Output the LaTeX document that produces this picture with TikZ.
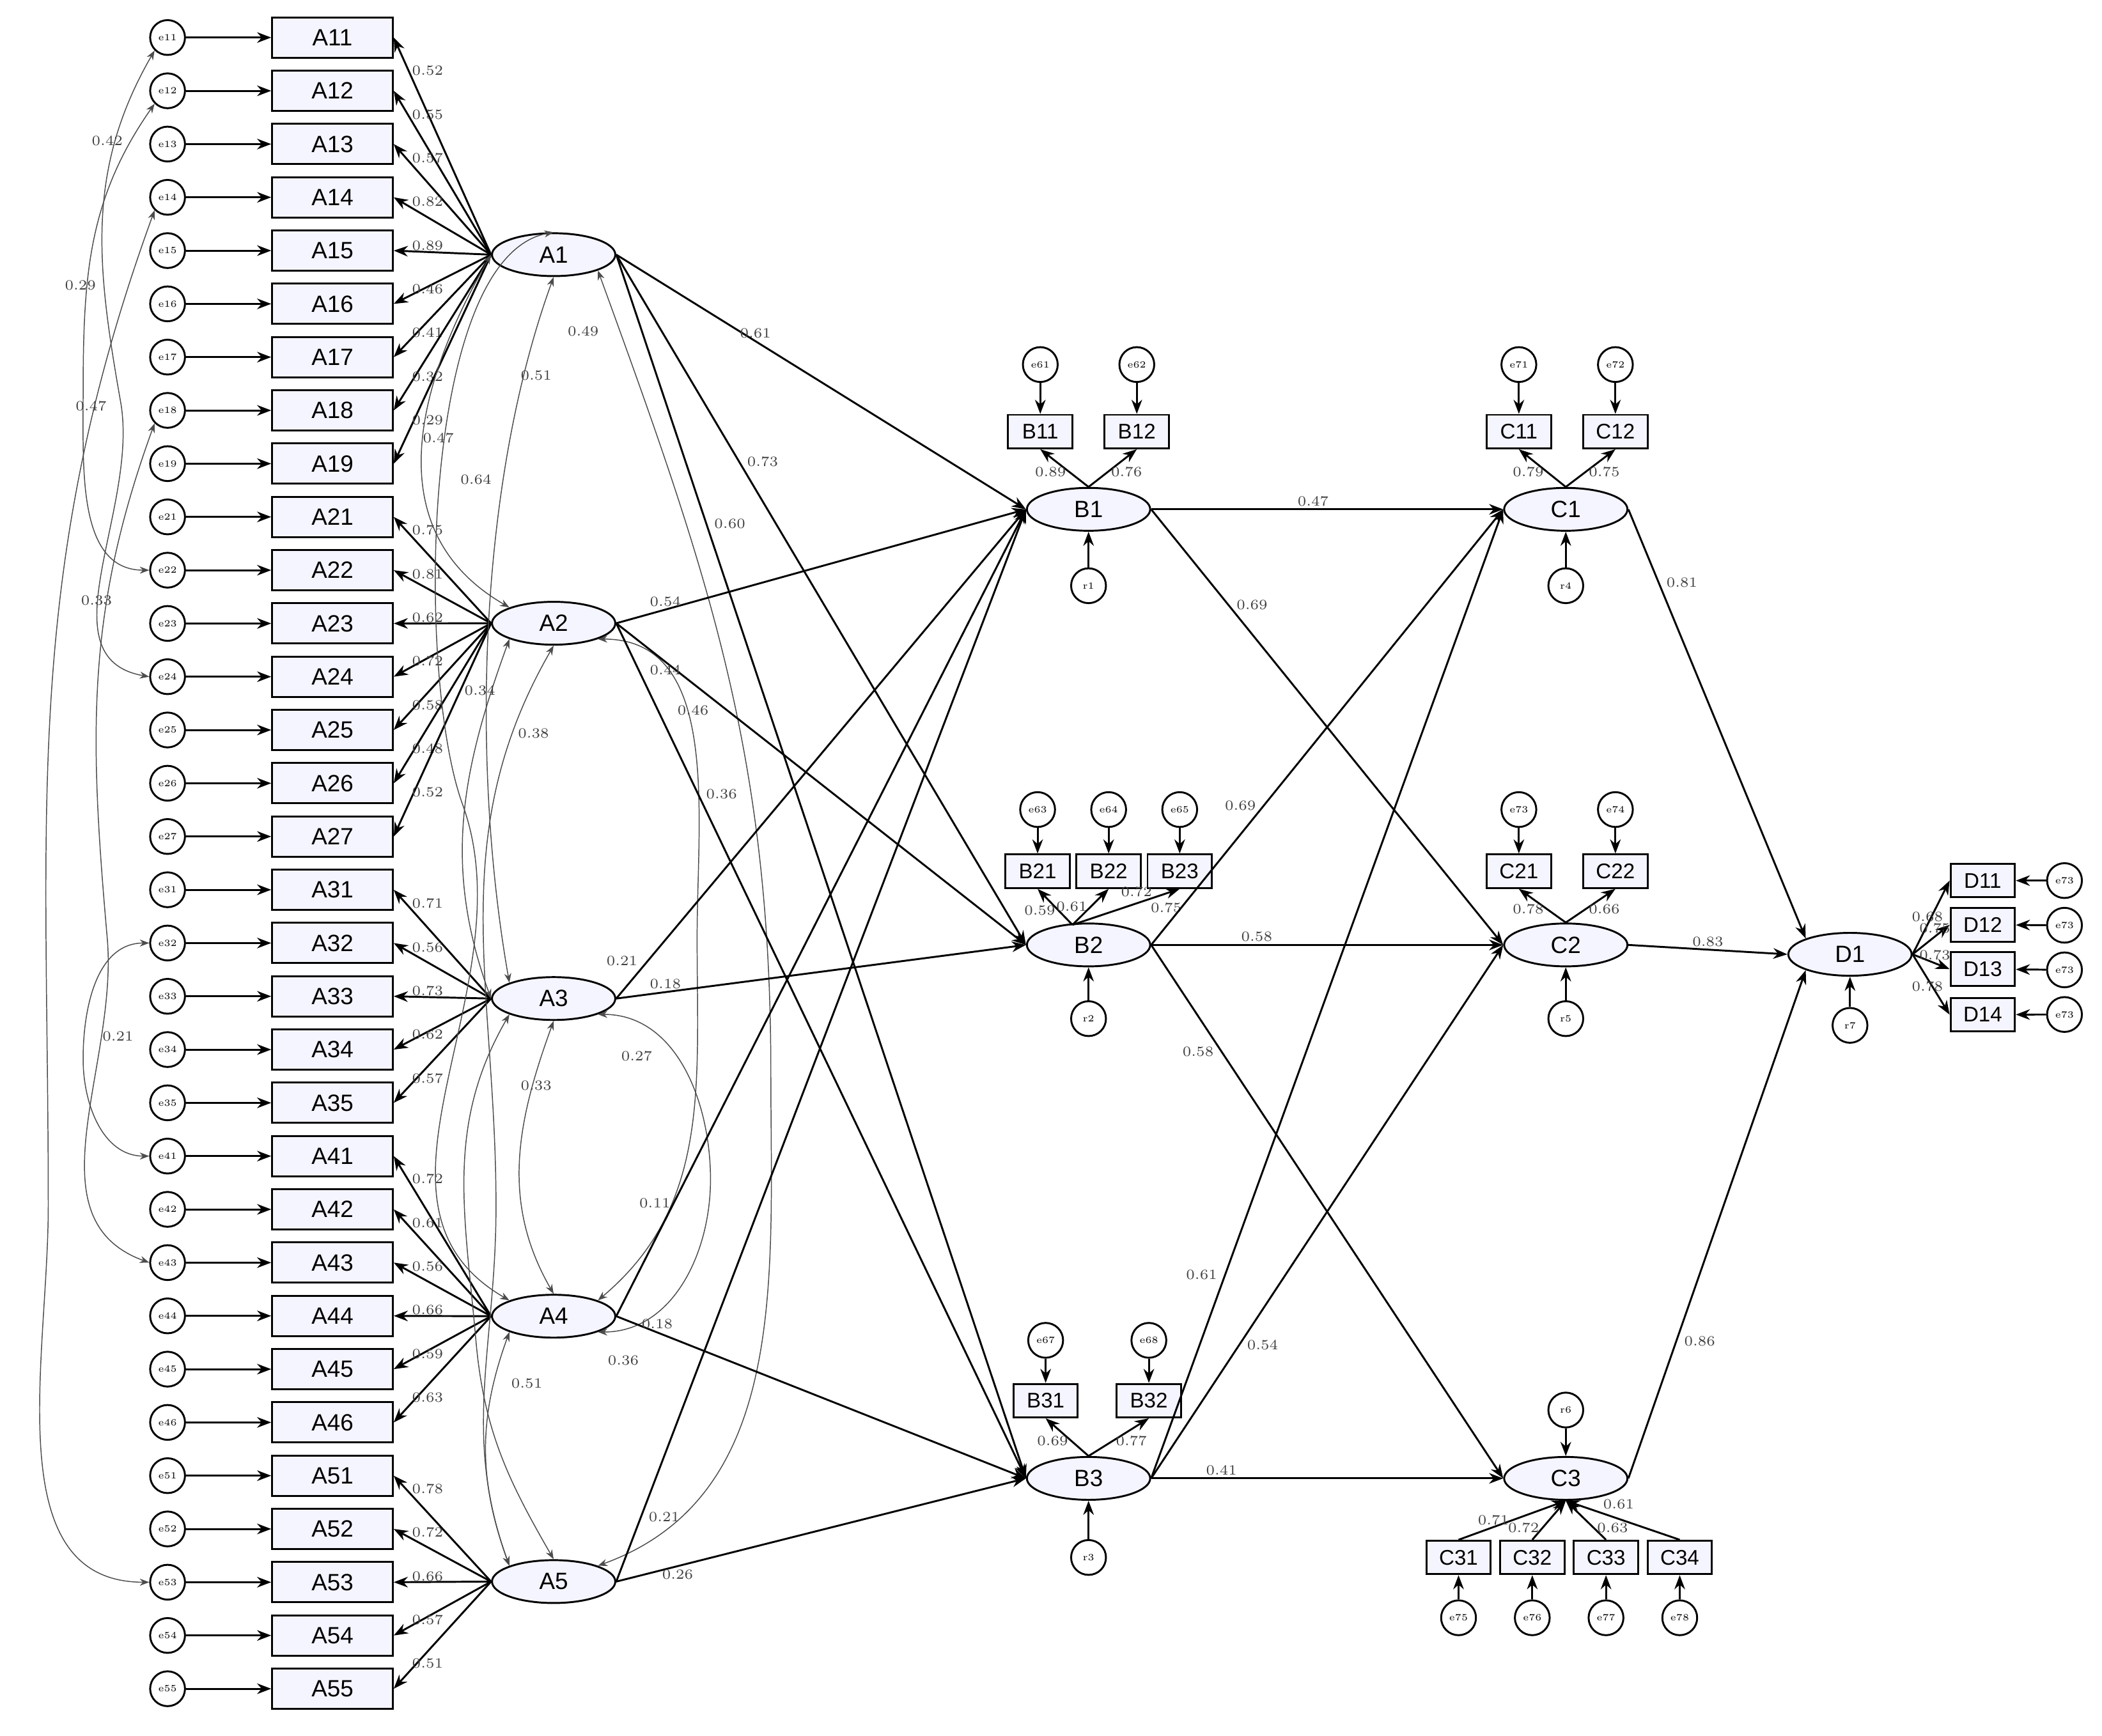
\documentclass[tikz,border=0pt]{standalone}
\usepackage{fontspec}
\newfontfamily\boxfont{Liberation Sans}
\usetikzlibrary{shapes.geometric,arrows.meta}

\begin{document}
\begin{tikzpicture}[x=0.02cm,y=-0.02cm,>={Stealth[length=6pt,width=4.5pt]},
  obs/.style={draw,thick,fill=blue!4,minimum width=1.8cm,minimum height=0.6cm,inner sep=0pt,font=\boxfont\fontsize{10}{10}\selectfont},
  sobs/.style={draw,thick,fill=blue!4,minimum width=0.96cm,minimum height=0.5cm,inner sep=0pt,font=\boxfont\fontsize{9}{9}\selectfont},
  lat/.style={ellipse,draw,thick,fill=blue!4,minimum width=1.84cm,minimum height=0.64cm,inner sep=0pt,font=\boxfont\fontsize{10}{10}\selectfont},
  err/.style={circle,draw,thick,fill=white,minimum size=0.52cm,inner sep=0pt,font=\fontsize{4}{4}\selectfont},
  coef/.style={font=\fontsize{6}{6}\selectfont,inner sep=1pt,text=black!75},
  cov/.style={{Stealth[length=4pt,width=3pt]}-{Stealth[length=4pt,width=3pt]},gray!60!black,thin}]
\useasboundingbox (0,0) rectangle (1568,1295);

% first order latents
\node[lat] (A1) at (413,190) {A1};
\node[lat] (A2) at (413,465) {A2};
\node[lat] (A3) at (413,745) {A3};
\node[lat] (A4) at (413,982) {A4};
\node[lat] (A5) at (413,1180) {A5};

% indicators of A
\foreach \s/\l/\w [count=\i] in {11/1/0.52,12/1/0.55,13/1/0.57,14/1/0.82,15/1/0.89,16/1/0.46,17/1/0.41,18/1/0.32,19/1/0.29,
  21/2/0.75,22/2/0.81,23/2/0.62,24/2/0.72,25/2/0.58,26/2/0.48,27/2/0.52,
  31/3/0.71,32/3/0.56,33/3/0.73,34/3/0.62,35/3/0.57,
  41/4/0.72,42/4/0.61,43/4/0.56,44/4/0.66,45/4/0.59,46/4/0.63,
  51/5/0.78,52/5/0.72,53/5/0.66,54/5/0.57,55/5/0.51}{
  \pgfmathsetmacro\yy{28+39.74*(\i-1)}
  \node[err] (e\s) at (125,\yy) {e\s};
  \node[obs] (A\s) at (248,\yy) {A\s};
  \draw[->,thick] (e\s) -- (A\s);
  \draw[->,thick] (A\l.west) -- (A\s.east) node[coef,pos=0.82,above right=-1pt]{\w};
}

% error covariances
\draw[cov] (e11.south west) to[out=240,in=100] (90,300) to[out=280,in=170] (e24.west);
\draw[cov] (e12.south west) to[out=235,in=90] (62,300) to[out=270,in=180] (e22.west);
\draw[cov] (e14.south west) to[out=250,in=90] (36,900) to[out=270,in=180] (e53.west);
\draw[cov] (e18.south west) to[out=250,in=95] (80,700) to[out=275,in=160] (e43.west);
\draw[cov] (e32.west) to[out=180,in=90] (62,790) to[out=270,in=180] (e41.west);
\node[coef] at (80,105) {0.42};
\node[coef] at (60,213) {0.29};
\node[coef] at (68,303) {0.47};
\node[coef] at (72,448) {0.33};
\node[coef] at (88,773) {0.21};

% latent covariances
\draw[cov] (A1.west) to[out=240,in=150,looseness=1.1] (A2.north west);
\draw[cov] (A1.north) to[out=190,in=110,looseness=0.6] (345,600) to[out=290,in=150] (A4.north west);
\draw[cov] (A1.south) to[out=250,in=100,looseness=0.8] (A3.north west);
\draw[cov] (A1.south east) to[out=290,in=90] (575,800) to[out=270,in=20] (A5.north east);
\draw[cov] (A2.south west) to[out=250,in=110] (A3.west);
\draw[cov] (A2.south) to[out=240,in=90] (370,900) to[out=270,in=110] (A5.north west);
\draw[cov] (A2.south east) to[out=0,in=90] (520,700) to[out=270,in=40] (A4.north east);
\draw[cov] (A3.south) to[out=250,in=120] (A4.north);
\draw[cov] (A3.south west) to[out=240,in=95] (355,1000) to[out=275,in=120] (A5.north);
\draw[cov] (A3.south east) to[out=0,in=90] (530,880) to[out=270,in=0] (A4.south east);
\draw[cov] (A4.south west) to[out=250,in=110] (A5.north west);
\node[coef] at (355,358) {0.64};
\node[coef] at (327,327) {0.47};
\node[coef] at (400,280) {0.51};
\node[coef] at (435,247) {0.49};
\node[coef] at (358,515) {0.34};
\node[coef] at (398,547) {0.38};
\node[coef] at (517,530) {0.46};
\node[coef] at (475,788) {0.27};
\node[coef] at (400,810) {0.33};
\node[coef] at (465,1015) {0.36};
\node[coef] at (393,1032) {0.51};

% second order latents and indicators
\node[lat] (B1) at (812,380) {B1};
\node[lat] (B2) at (812,705) {B2};
\node[lat] (B3) at (812,1103) {B3};
\node[lat] (C1) at (1168,380) {C1};
\node[lat] (C2) at (1168,705) {C2};
\node[lat] (C3) at (1168,1103) {C3};
\node[lat] (D1) at (1380,712) {D1};

\foreach \n/\x/\y in {B11/776/322,B12/848/322,B21/774/650,B22/827/650,B23/880/650,B31/780/1045,B32/857/1045,
  C11/1133/322,C12/1205/322,C21/1133/650,C22/1205/650,C31/1088/1162,C32/1143/1162,C33/1198/1162,C34/1253/1162,
  D11/1479/657,D12/1479/690,D13/1479/723,D14/1479/757}
  \node[sobs] (\n) at (\x,\y) {\n};

\foreach \n/\x/\y/\t in {e61/776/272/B11,e62/848/272/B12,e63/774/604/B21,e64/827/604/B22,e65/880/604/B23,
  e67/780/1000/B31,e68/857/1000/B32,e71/1133/272/C11,e72/1205/272/C12,e73/1133/604/C21,e74/1205/604/C22}{
  \node[err] (\n) at (\x,\y) {\n};
  \draw[->,thick] (\n) -- (\t);
}
\foreach \n/\x/\t in {e75/1088/C31,e76/1143/C32,e77/1198/C33,e78/1253/C34}{
  \node[err] (\n) at (\x,1207) {\n};
  \draw[->,thick] (\n) -- (\t);
}
\foreach \i in {1,2,3,4}{
  \node[err] (d\i) at (1540,{657+33.3*(\i-1)}) {e73};
  \draw[->,thick] (d\i) -- (D1\i);
}
\foreach \n/\x/\y/\t in {r1/812/437/B1,r2/812/760/B2,r3/812/1162/B3,r4/1168/437/C1,r5/1168/760/C2,r7/1380/765/D1}{
  \node[err] (\n) at (\x,\y) {\n};
  \draw[->,thick] (\n) -- (\t);
}
\node[err] (r6) at (1168,1052) {r6};
\draw[->,thick] (r6) -- (C3);

% loadings of B, C, D
\coordinate (b2t) at (800,690);
\draw[->,thick] (B1.north) -- (B11.south) node[coef,pos=0.4,left]{0.89};
\draw[->,thick] (B1.north) -- (B12.south) node[coef,pos=0.4,right]{0.76};
\draw[->,thick] (b2t) -- (B21.south) node[coef,pos=0.4,left]{0.59};
\draw[->,thick] (b2t) -- (B22.south) node[coef,pos=0.5,left]{0.61};
\draw[->,thick] (b2t) -- (B23.south) node[coef,pos=0.75,above left=-1pt]{0.72} node[coef,pos=0.7,below right]{0.75};
\draw[->,thick] (B3.north) -- (B31.south) node[coef,pos=0.4,left]{0.69};
\draw[->,thick] (B3.north) -- (B32.south) node[coef,pos=0.4,right]{0.77};
\draw[->,thick] (C1.north) -- (C11.south) node[coef,pos=0.4,left]{0.79};
\draw[->,thick] (C1.north) -- (C12.south) node[coef,pos=0.4,right]{0.75};
\draw[->,thick] (C2.north) -- (C21.south) node[coef,pos=0.4,left]{0.78};
\draw[->,thick] (C2.north) -- (C22.south) node[coef,pos=0.4,right]{0.66};
\draw[->,thick] (C31.north) -- (C3.south) node[coef,pos=0.5,left]{0.71};
\draw[->,thick] (C32.north) -- (C3.south) node[coef,pos=0.3,left]{0.72};
\draw[->,thick] (C33.north) -- (C3.south) node[coef,pos=0.3,right]{0.63};
\draw[->,thick] (C34.north) -- (C3.south) node[coef,pos=0.7,above right]{0.61};
\draw[->,thick] (D1.east) -- (D11.west) node[coef,pos=0.4,above]{0.68};
\draw[->,thick] (D1.east) -- (D12.west) node[coef,pos=0.6,above]{0.75};
\draw[->,thick] (D1.east) -- (D13.west) node[coef,pos=0.6,above]{0.73};
\draw[->,thick] (D1.east) -- (D14.west) node[coef,pos=0.4,below]{0.78};

% structural paths
\draw[->,thick] (A1.east) -- (B1.west) node[coef,pos=0.34,above]{0.61};
\draw[->,thick] (A1.east) -- (B2.west) node[coef,pos=0.3,right=2pt]{0.73};
\draw[->,thick] (A1.east) -- (B3.west) node[coef,pos=0.22,right=2pt]{0.60};
\draw[->,thick] (A2.east) -- (B1.west) node[coef,pos=0.12,above]{0.54};
\draw[->,thick] (A2.east) -- (B2.west) node[coef,pos=0.12,below]{0.44};
\draw[->,thick] (A2.east) -- (B3.west) node[coef,pos=0.2,right=2pt]{0.36};
\draw[->,thick] (A3.east) -- (B1.west) node[coef,pos=0.06,above left]{0.21};
\draw[->,thick] (A3.east) -- (B2.west) node[coef,pos=0.12,above]{0.18};
\draw[->,thick] (A4.east) -- (B1.west) node[coef,pos=0.14,left]{0.11};
\draw[->,thick] (A4.east) -- (B3.west) node[coef,pos=0.1,above]{0.18};
\draw[->,thick] (A5.east) -- (B1.west) node[coef,pos=0.06,right=2pt]{0.21};
\draw[->,thick] (A5.east) -- (B3.west) node[coef,pos=0.15,below]{0.26};
\draw[->,thick] (B1.east) -- (C1.west) node[coef,pos=0.46,above]{0.47};
\draw[->,thick] (B1.east) -- (C2.west) node[coef,pos=0.22,right=2pt]{0.69};
\draw[->,thick] (B2.east) -- (C1.west) node[coef,pos=0.32,left=2pt]{0.69};
\draw[->,thick] (B2.east) -- (C2.west) node[coef,pos=0.3,above]{0.58};
\draw[->,thick] (B2.east) -- (C3.west) node[coef,pos=0.2,left=2pt]{0.58};
\draw[->,thick] (B3.east) -- (C1.west) node[coef,pos=0.21,left=2pt]{0.61};
\draw[->,thick] (B3.east) -- (C2.west) node[coef,pos=0.25,right=2pt]{0.54};
\draw[->,thick] (B3.east) -- (C3.west) node[coef,pos=0.2,above]{0.41};
\draw[->,thick] (C1.east) -- (D1.north west) node[coef,pos=0.17,right=2pt]{0.81};
\draw[->,thick] (C2.east) -- (D1.west) node[coef,pos=0.5,above]{0.83};
\draw[->,thick] (C3.east) -- (D1.south west) node[coef,pos=0.27,right=2pt]{0.86};
\end{tikzpicture}
\end{document}
